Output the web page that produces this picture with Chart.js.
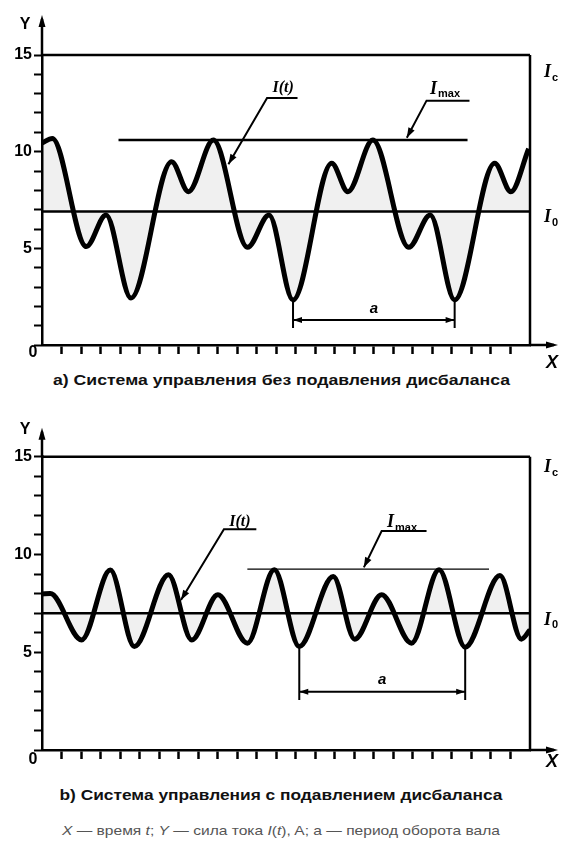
<!DOCTYPE html>
<html>
<head>
<meta charset="utf-8">
<script src="https://cdn.jsdelivr.net/npm/chart.js@4.4.0/dist/chart.umd.min.js"></script>
<style>
  body { margin: 0; background: #fff; }
  #page { position: relative; width: 562px; height: 845px; overflow: hidden; }
  .box { position: absolute; left: 0; width: 562px; }
  .cap { position: absolute; left: 0; width: 562px; text-align: center; white-space: nowrap;
         font-family: "Liberation Sans", Arial, sans-serif; line-height: 1; }
  .cap span { display: inline-block; transform-origin: center; }
</style>
</head>
<body>
<div id="page">
  <div class="box" style="top:0;height:372px"><canvas id="chartA"></canvas></div>
  <div class="cap" style="top:373px;font-weight:bold;font-size:14px;color:#111">
    <span data-w="457">а) Система управления без подавления дисбаланса</span></div>
  <div class="box" style="top:400px;height:370px"><canvas id="chartB"></canvas></div>
  <div class="cap" style="top:788px;font-weight:bold;font-size:14px;color:#111">
    <span data-w="443">b) Система управления с подавлением дисбаланса</span></div>
  <div class="cap" style="top:824px;font-size:13px;color:#555">
    <span data-w="438"><i>X</i> — время <i>t</i>; <i>Y</i> — сила тока <i>I</i>(<i>t</i>), A; а — период оборота вала</span></div>
</div>

<script>
// Time axis (both panels)
const timeMax = 25;
const yMax = 15;
const yLabelTicks = [5, 10, 15];

// Panel a: current without imbalance suppression
const timeA = [0, 0.53, 2.27, 3.28, 4.56, 6.64, 7.5, 8.78, 10.53, 11.63, 12.86, 14.84, 15.67, 16.95, 18.79, 19.89, 21.14, 23.19, 24.02, 24.93];
const currentA = [10.45, 10.68, 5.09, 6.73, 2.43, 9.48, 7.93, 10.6, 5.05, 6.73, 2.33, 9.4, 7.93, 10.6, 5.05, 6.73, 2.33, 9.4, 7.93, 10.15];
const levelsA = { i0: 6.9, imax: 10.6, ic: 15 };
const imaxSpanA = [3.92, 21.8];
const periodA = [12.86, 21.14];

// Panel b: current with imbalance suppression
const timeB = [0, 0.42, 2.03, 3.5, 4.73, 6.48, 7.67, 9.01, 10.52, 11.9, 13.18, 14.92, 16.02, 17.4, 18.93, 20.34, 21.68, 23.46, 24.56, 25];
const currentB = [7.98, 8.0, 5.63, 9.2, 5.29, 8.96, 5.63, 7.94, 5.46, 9.22, 5.29, 8.87, 5.67, 7.94, 5.46, 9.22, 5.26, 8.92, 5.67, 6.14];
const levelsB = { i0: 7.0, imax: 9.25, ic: 15 };
const imaxSpanB = [10.52, 22.9];
const periodB = [13.18, 21.68];

/**
 * Helper: straight black segment in data units
 */
function seg(x1, y1, x2, y2, w) {
  return {
    data: [{ x: x1, y: y1 }, { x: x2, y: y2 }],
    borderColor: "#000", borderWidth: w, pointRadius: 0,
    fill: false, tension: 0, clip: false,
  };
}

function arrowHead(ctx, fx, fy, tx, ty, len, half) {
  const ang = Math.atan2(ty - fy, tx - fx);
  ctx.save();
  ctx.translate(tx, ty);
  ctx.rotate(ang);
  ctx.beginPath();
  ctx.moveTo(0, 0);
  ctx.lineTo(-len, -half);
  ctx.lineTo(-len, half);
  ctx.closePath();
  ctx.fill();
  ctx.restore();
}

function drawI(ctx, x, y, sub, size) {
  ctx.textBaseline = "middle";
  ctx.textAlign = "left";
  ctx.font = `italic bold ${size}px "Liberation Serif", serif`;
  ctx.fillText("I", x, y);
  const w = ctx.measureText("I").width;
  ctx.font = `bold ${Math.round(size * 0.62)}px "Liberation Sans", sans-serif`;
  ctx.fillText(sub, x + w + 1, y + size * 0.3);
  return w + 1 + ctx.measureText(sub).width;
}

/**
 * Plugin: axis arrows, labels, leaders and the period dimension
 */
const decorPlugin = {
  id: "decor",
  afterDatasetsDraw(chart, args, o) {
    const { ctx, chartArea: a, scales: { x, y } } = chart;
    ctx.save();
    ctx.fillStyle = "#000";
    ctx.strokeStyle = "#000";

    // Y axis extension with arrow
    ctx.lineWidth = 2.5;
    ctx.beginPath();
    ctx.moveTo(a.left, a.top);
    ctx.lineTo(a.left, a.top - o.yArrow + 4);
    ctx.stroke();
    arrowHead(ctx, a.left, a.top, a.left, a.top - o.yArrow, 12, 3.5);
    // X axis extension with arrow
    ctx.beginPath();
    ctx.moveTo(a.right, a.bottom);
    ctx.lineTo(558 - 4, a.bottom);
    ctx.stroke();
    arrowHead(ctx, a.right, a.bottom, 558, a.bottom, 12, 3.5);

    ctx.font = 'bold 16px "Liberation Sans", sans-serif';
    ctx.textAlign = "center";
    ctx.textBaseline = "middle";
    ctx.fillText("Y", a.left - 17, a.top - o.yLabel);
    ctx.fillText("0", a.left - 9, a.bottom + o.zero);
    ctx.font = 'italic bold 18px "Liberation Sans", sans-serif';
    ctx.fillText("X", 552, a.bottom + o.xLabel);

    // Right side level labels
    drawI(ctx, a.right + 14, y.getPixelForValue(o.icLabel), "c", 18);
    drawI(ctx, a.right + 14, y.getPixelForValue(o.i0Label), "0", 18);

    // Leaders for I(t) and Imax
    ctx.lineWidth = 2;
    o.leaders.forEach(l => {
      const ux1 = x.getPixelForValue(l.under[0]);
      const ux2 = x.getPixelForValue(l.under[1]);
      const uy = y.getPixelForValue(l.under[2]);
      const tx = x.getPixelForValue(l.tip[0]);
      const ty = y.getPixelForValue(l.tip[1]);
      ctx.beginPath();
      ctx.moveTo(ux2, uy);
      ctx.lineTo(ux1, uy);
      ctx.lineTo(tx, ty);
      ctx.stroke();
      arrowHead(ctx, ux1, uy, tx, ty, 10, 3.5);
      const lx = x.getPixelForValue(l.label[0]);
      const ly = y.getPixelForValue(l.label[1]);
      if (l.kind === "it") {
        ctx.font = 'italic bold 16px "Liberation Serif", serif';
        ctx.textAlign = "center";
        ctx.textBaseline = "middle";
        ctx.fillText("I(t)", lx, ly);
      } else {
        drawI(ctx, lx - 18, ly - 3, "max", 18);
      }
    });

    // Period dimension
    const p1 = x.getPixelForValue(o.period[0]);
    const p2 = x.getPixelForValue(o.period[1]);
    const py = y.getPixelForValue(o.periodArrow);
    arrowHead(ctx, p2, py, p1, py, 9, 3);
    arrowHead(ctx, p1, py, p2, py, 9, 3);
    ctx.font = 'italic bold 15px "Liberation Sans", sans-serif';
    ctx.textAlign = "center";
    ctx.textBaseline = "middle";
    ctx.fillText("а", (p1 + p2) / 2, y.getPixelForValue(o.periodLabel));
    ctx.restore();
  },
};

function buildChart(id, t, c, lv, imaxSpan, period, periodLow, periodArrow, topPad, xH, deco) {
  const curve = {
    data: t.map((v, i) => ({ x: v, y: c[i] })),
    borderColor: "#000", borderWidth: 5, pointRadius: 0,
    cubicInterpolationMode: "monotone",
    fill: { value: lv.i0 }, backgroundColor: "rgba(0,0,0,0.06)",
  };
  const troughA = c[t.indexOf(period[0])];
  const troughB = c[t.indexOf(period[1])];
  const datasets = [
    seg(0, lv.i0, timeMax, lv.i0, 2.5),
    seg(0, lv.ic, timeMax, lv.ic, 2.5),
    seg(timeMax, 0, timeMax, lv.ic, 2.5),
    seg(imaxSpan[0], lv.imax, imaxSpan[1], lv.imax, deco.imaxW),
    seg(period[0], troughA, period[0], periodLow, 2),
    seg(period[1], troughB, period[1], periodLow, 2),
    seg(period[0], periodArrow, period[1], periodArrow, 2),
    curve,
  ];
  return new Chart(document.getElementById(id), {
    type: "line",
    data: { datasets },
    plugins: [decorPlugin],
    options: {
      responsive: true,
      maintainAspectRatio: false,
      animation: false,
      layout: { padding: { top: topPad, right: 32, left: 0, bottom: 0 } },
      plugins: {
        legend: { display: false },
        tooltip: { enabled: false },
        decor: Object.assign({ period, periodArrow }, deco),
      },
      scales: {
        x: {
          type: "linear", min: 0, max: timeMax,
          afterFit: s => { s.height = xH; },
          border: { display: true, color: "#000", width: 2.5 },
          grid: {
            drawOnChartArea: false, drawTicks: true, tickLength: 9, tickWidth: 2.5,
            tickColor: ctx => (ctx.tick && ctx.tick.value > 0 && ctx.tick.value < timeMax) ? "#000" : "rgba(0,0,0,0)",
          },
          ticks: { stepSize: 1, autoSkip: false, maxRotation: 0, callback: () => "" },
        },
        y: {
          min: 0, max: yMax,
          afterFit: s => { s.width = 42; },
          border: { display: true, color: "#000", width: 2.5 },
          grid: { drawOnChartArea: false, drawTicks: true, tickLength: 8, tickWidth: 2, tickColor: "#000" },
          ticks: {
            stepSize: 1, autoSkip: false, padding: 2, color: "#000",
            font: { family: "Liberation Sans", weight: "bold", size: 16 },
            callback: v => (yLabelTicks.includes(v) ? String(v) : ""),
          },
        },
      },
    },
  });
}

buildChart("chartA", timeA, currentA, levelsA, imaxSpanA, periodA, 0.88, 1.29, 55, 27, {
  imaxW: 2.5, yArrow: 40, yLabel: 30, zero: 8, xLabel: 18,
  icLabel: 14.1, i0Label: 6.6, periodLabel: 1.85,
  leaders: [
    { kind: "it", under: [11.53, 13.09, 12.78], tip: [9.55, 9.35], label: [12.35, 13.3] },
    { kind: "max", under: [19.7, 21.9, 12.64], tip: [18.69, 10.72], label: [20.8, 13.09] },
  ],
});

buildChart("chartB", timeB, currentB, levelsB, imaxSpanB, periodB, 2.56, 2.98, 56.7, 20, {
  imaxW: 1.3, yArrow: 29, yLabel: 27, zero: 10, xLabel: 12,
  icLabel: 14.45, i0Label: 6.65, periodLabel: 3.58,
  leaders: [
    { kind: "it", under: [9.32, 10.98, 11.29], tip: [7.12, 7.67], label: [10.14, 11.68] },
    { kind: "max", under: [17.4, 19.7, 11.2], tip: [16.49, 9.34], label: [18.6, 11.5] },
  ],
});

// Stretch captions to the reference widths
document.querySelectorAll(".cap span").forEach(el => {
  const target = +el.dataset.w;
  el.style.transform = `scaleX(${target / el.offsetWidth})`;
});
</script>
</body>
</html>
